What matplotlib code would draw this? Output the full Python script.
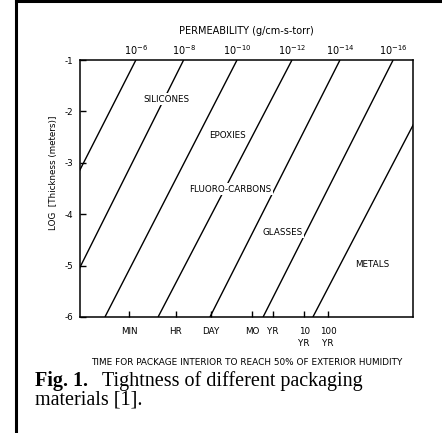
import matplotlib
matplotlib.use("Agg")
import matplotlib.pyplot as plt
from matplotlib.lines import Line2D

# ---- data (x = log10 time in seconds, y = log10 thickness in meters) ----
perm_labels = ["10$^{-6}$", "10$^{-8}$", "10$^{-10}$", "10$^{-12}$", "10$^{-14}$", "10$^{-16}$", ""]
x_at_top = [2.05, 3.90, 5.97, 8.10, 9.96, 12.02, 14.11]      # log t at thickness 10^-1 m
x_at_bottom = [-3.02, -1.08, 0.85, 2.91, 4.92, 6.98, 8.91]   # log t at thickness 10^-6 m
y_top, y_bottom = -1, -6

time_labels = ["MIN", "HR", "DAY", "MO", "YR", "10\nYR", "100\nYR"]
time_pos = [1.78, 3.60, 4.95, 6.55, 7.36, 8.57, 9.50]
time_has_tick = [True, True, False, True, True, True, True]

y_ticks = [-1, -2, -3, -4, -5, -6]

materials = ["SILICONES", "EPOXIES", "FLUORO-CARBONS", "GLASSES", "METALS"]
mat_x = [3.22, 5.62, 5.70, 7.72, 11.2]
mat_y = [-1.76, -2.46, -3.51, -4.35, -4.97]

# ---- figure ----
fig = plt.figure(figsize=(4.42, 4.33), dpi=100)
W, H = 442, 433
ax = fig.add_axes([80 / W, 1 - 317 / H, 333 / W, 257 / H])
ax.set_xlim(-0.116, 12.79)
ax.set_ylim(-6, -1)

fs = 6.3
for xt, xb in zip(x_at_top, x_at_bottom):
    ax.plot([xb, xt], [y_bottom, y_top], color="black", lw=1.0, solid_capstyle="butt")

for s in ax.spines.values():
    s.set_linewidth(1.1)

ax.set_yticks(y_ticks)
ax.set_yticklabels([str(v) for v in y_ticks], fontsize=fs)
ax.tick_params(axis="y", direction="in", length=4, width=1.0, pad=5)
ax.set_ylabel("LOG  [Thickness (meters)]", fontsize=fs)
ax.yaxis.set_label_coords(-0.066, 0.56)

ax.set_xticks(time_pos)
ax.set_xticklabels(time_labels, fontsize=fs, linespacing=1.5, va="top")
ax.tick_params(axis="x", direction="in", length=4, width=1.0, pad=7)
for t, show in zip(ax.xaxis.get_major_ticks(), time_has_tick):
    t.tick1line.set_visible(show)
ax.set_xlabel("TIME FOR PACKAGE INTERIOR TO REACH 50% OF EXTERIOR HUMIDITY",
              fontsize=6.4, labelpad=7)

top = ax.twiny()
top.set_xlim(ax.get_xlim())
top_pos = [x for x, l in zip(x_at_top, perm_labels) if l]
top.set_xticks(top_pos)
top.set_xticklabels([l for l in perm_labels if l], fontsize=7)
top.tick_params(axis="x", length=0, pad=2)
top.set_xlabel("PERMEABILITY (g/cm-s-torr)", fontsize=7, labelpad=7)
for s in top.spines.values():
    s.set_visible(False)

for m, x, y in zip(materials, mat_x, mat_y):
    ax.text(x, y, m, fontsize=fs, ha="center", va="center",
            bbox=dict(facecolor="white", edgecolor="none", pad=1.2), zorder=5)

# caption
cap_fs = 14.5
fig.text(35 / W, 1 - 386 / H, "Fig. 1.", fontsize=cap_fs, va="baseline",
         family="Liberation Serif", fontweight="bold")
fig.text(102 / W, 1 - 386 / H, "Tightness of different packaging",
         fontsize=cap_fs, va="baseline", family="Liberation Serif")
fig.text(35 / W, 1 - 405 / H, "materials [1].", fontsize=cap_fs, va="baseline",
         family="Liberation Serif")

# page border lines
fig.add_artist(Line2D([15.5 / W, 15.5 / W], [0, 1], color="black", lw=2.2,
                      transform=fig.transFigure))
fig.add_artist(Line2D([15.5 / W, 1], [1 - 1.2 / H, 1 - 1.2 / H], color="black", lw=2.2,
                      transform=fig.transFigure))

fig.savefig("out.png", dpi=100)
